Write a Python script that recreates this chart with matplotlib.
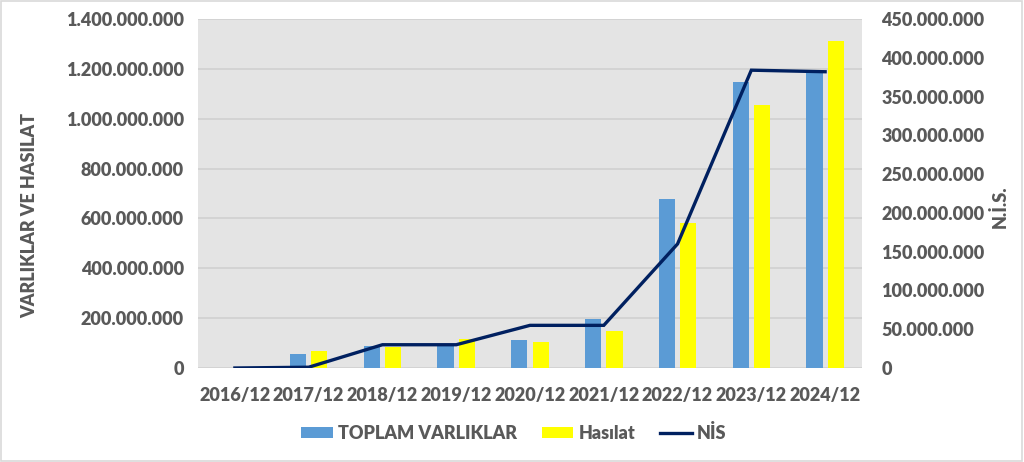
import numpy as np
import matplotlib
matplotlib.use("Agg")
import matplotlib.pyplot as plt
from matplotlib.ticker import FuncFormatter, MultipleLocator
from matplotlib.patches import Rectangle

# data
periods = ["2016/12", "2017/12", "2018/12", "2019/12", "2020/12",
           "2021/12", "2022/12", "2023/12", "2024/12"]
toplam_varliklar = [0, 56e6, 88e6, 92e6, 112e6, 196e6, 676e6, 1148e6, 1190e6]
hasilat = [0, 68e6, 85e6, 116e6, 104e6, 148e6, 580e6, 1056e6, 1312e6]
nis = [0, 1e6, 30e6, 30e6, 55e6, 55e6, 160e6, 384e6, 382e6]

TEXT = "#595959"
WT = "heavy"
plt.rcParams["font.family"] = ["Lato", "DejaVu Sans"]
plt.rcParams["font.weight"] = WT


def dotted(v, pos=None):
    return f"{int(round(v)):,}".replace(",", ".")


fig = plt.figure(figsize=(10.24, 4.62), dpi=100)
fig.patches.append(Rectangle((0.001, 0.002), 0.997, 0.995, transform=fig.transFigure,
                             fill=False, edgecolor="#D9D9D9", linewidth=1.2))

ax = fig.add_axes([198 / 1024, 1 - 368 / 462, (862 - 198) / 1024, (368 - 19) / 462])
ax.set_facecolor("#E4E4E4")

x = np.arange(len(periods))
w = 0.22
off = 0.145
ax.bar(x - off, toplam_varliklar, width=w, color="#5B9BD5", label="TOPLAM VARLIKLAR", zorder=2)
ax.bar(x + off, hasilat, width=w, color="#FFFF00", label="Hasılat", zorder=2)

ax.set_xlim(-0.5, len(periods) - 0.5)
ax.set_ylim(0, 1.4e9)
ax.yaxis.set_major_locator(MultipleLocator(200e6))
ax.yaxis.set_major_formatter(FuncFormatter(dotted))
ax.set_xticks(x)
ax.set_xticklabels(periods)
ax.grid(axis="y", color="#D0D0D0", linewidth=1.2, zorder=0)
ax.set_axisbelow(True)
for s in ax.spines.values():
    s.set_visible(False)
ax.tick_params(length=0, colors=TEXT, labelsize=13, pad=10)
ax.tick_params(axis="x", pad=14)

ax2 = ax.twinx()
ax2.plot(x, nis, color="#002060", linewidth=2.4, label="NİS", zorder=3,
         solid_joinstyle="miter")
ax2.set_ylim(0, 450e6)
ax2.yaxis.set_major_locator(MultipleLocator(50e6))
ax2.yaxis.set_major_formatter(FuncFormatter(dotted))
for s in ax2.spines.values():
    s.set_visible(False)
ax2.tick_params(length=0, colors=TEXT, labelsize=13, pad=14)

for lab in ax.get_xticklabels() + ax.get_yticklabels() + ax2.get_yticklabels():
    lab.set_fontweight(WT)

fig.text(30 / 1024, 1 - 216 / 462, "VARLIKLAR VE HASILAT", rotation=90, ha="center",
         va="center", color=TEXT, fontsize=13, fontweight=WT)
fig.text(1000 / 1024, 1 - 207 / 462, "N.İ.S.", rotation=90, ha="center",
         va="center", color=TEXT, fontsize=13, fontweight=WT)

h1, l1 = ax.get_legend_handles_labels()
h2, l2 = ax2.get_legend_handles_labels()
leg = fig.legend(h1 + h2, l1 + l2, loc="center", bbox_to_anchor=(514 / 1024, 1 - 433 / 462),
                 ncol=3, frameon=False, fontsize=13, handlelength=1.75, handleheight=0.55,
                 handletextpad=0.3, columnspacing=1.35)
for t in leg.get_texts():
    t.set_color(TEXT)
    t.set_fontweight(WT)

fig.savefig("out.png", dpi=100)
